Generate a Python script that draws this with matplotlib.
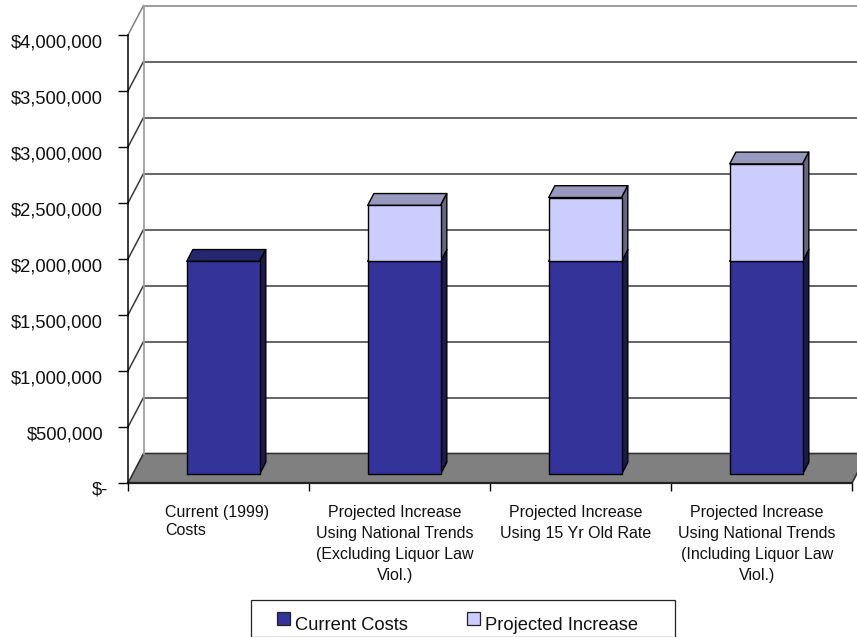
import matplotlib
matplotlib.use("Agg")
import matplotlib.pyplot as plt
from matplotlib.patches import Polygon, Rectangle
from matplotlib.transforms import ScaledTranslation

categories = [
    "Current (1999)\nCosts",
    "Projected Increase\nUsing National Trends\n(Excluding Liquor Law\nViol.)",
    "Projected Increase\nUsing 15 Yr Old Rate",
    "Projected Increase\nUsing National Trends\n(Including Liquor Law\nViol.)",
]
category_align = ["left", "center", "center", "center"]
current_costs = [1900000, 1900000, 1900000, 1900000]
projected_increase = [0, 500000, 570000, 870000]
y_ticks = [0, 500000, 1000000, 1500000, 2000000, 2500000, 3000000, 3500000, 4000000]
y_labels = ["$-", "$500,000", "$1,000,000", "$1,500,000", "$2,000,000",
            "$2,500,000", "$3,000,000", "$3,500,000", "$4,000,000"]

W, H = 857, 637
CAT_PX = 181.0
# oblique depth of the 3D box, as a category fraction and dollars
DEPTH_X = 15.5 / CAT_PX
DEPTH_Y = 29.5 / 56 * 500000
BAR_WIDTH = 0.403

plt.rcParams["font.family"] = ["Liberation Sans", "DejaVu Sans"]

fig = plt.figure(figsize=(W / 100, H / 100), dpi=100, facecolor="white")
ax = fig.add_axes([128 / W, 1 - 483 / H, 729 / W, 448 / H])
ax.set_xlim(0, 729 / CAT_PX)
ax.set_ylim(0, 4000000)
ax.patch.set_visible(False)


def proj(x, val, d):
    return (x + d * DEPTH_X, val + d * DEPTH_Y)


def poly(points, face, edge="black", lw=1.0, z=3):
    ax.add_patch(Polygon(points, closed=True, facecolor=face, edgecolor=edge,
                         linewidth=lw, joinstyle="round", clip_on=False, zorder=z))


def box(x0, x1, v0, v1, front, top, side, z):
    d0, d1 = 0.3, 0.7
    poly([proj(x0, v1, d0), proj(x1, v1, d0), proj(x1, v1, d1), proj(x0, v1, d1)], top, z=z)
    poly([proj(x1, v0, d0), proj(x1, v0, d1), proj(x1, v1, d1), proj(x1, v1, d0)], side, z=z)
    poly([proj(x0, v0, d0), proj(x1, v0, d0), proj(x1, v1, d0), proj(x0, v1, d0)], front, z=z)


x_end = 4.0
# floor
poly([proj(0, 0, 0), proj(x_end, 0, 0), proj(x_end, 0, 1), proj(0, 0, 1)],
     "#808080", edge="#333333", lw=1.2, z=1)
ax.plot([0, x_end], [0, 0], color="#222222", lw=1.6, clip_on=False, zorder=2)

# back wall gridlines and their returns on the side wall
for v in y_ticks[1:]:
    col = "#808080" if v == 4000000 else "#3a3a3a"
    ax.plot([0, DEPTH_X], [v, v + DEPTH_Y], color=col, lw=1.1, clip_on=False, zorder=1)
    ax.plot([DEPTH_X, x_end + DEPTH_X], [v + DEPTH_Y, v + DEPTH_Y],
            color=col, lw=1.1, clip_on=False, zorder=1)
ax.plot([DEPTH_X, DEPTH_X], [DEPTH_Y, 4000000 + DEPTH_Y], color="#a0a0a0", lw=1.3,
        clip_on=False, zorder=1)

# stacked columns
for i, (cur, inc) in enumerate(zip(current_costs, projected_increase)):
    x0 = i + 0.5 - BAR_WIDTH / 2
    x1 = x0 + BAR_WIDTH
    box(x0, x1, 0, cur, "#333399", "#26266e", "#1a1a4d", z=3 + i)
    if inc:
        box(x0, x1, cur, cur + inc, "#ccccff", "#9999bf", "#666680", z=3 + i)

for s in ["top", "right"]:
    ax.spines[s].set_visible(False)
ax.spines["left"].set_linewidth(1.1)
ax.spines["bottom"].set_visible(False)

ax.set_yticks(y_ticks)
ax.set_yticklabels(y_labels, fontsize=13.2, color="#111111")
ax.tick_params(axis="y", length=7, width=1.0, pad=11)
ax.set_xticks(range(5))
ax.set_xticklabels([])
ax.tick_params(axis="x", length=6, width=1.0)

# tick labels hang a little below their ticks; the zero label sits further right
for lab, val in zip(ax.get_yticklabels(), y_ticks):
    shift_x = 5 / 100 if val == 0 else 0
    lab.set_transform(lab.get_transform() + ScaledTranslation(shift_x, -5.5 / 100, fig.dpi_scale_trans))

label_x = [0.5, 1.475, 2.475, 3.475]
for i, (name, al) in enumerate(zip(categories, category_align)):
    ha = "left" if al == "left" else "center"
    xpos = (165 - 128) / CAT_PX if al == "left" else label_x[i]
    spacing = 1.2 if i == 0 else 1.48
    ax.annotate(name, xy=(xpos, 0), xytext=(0, -16), textcoords="offset points",
                ha=ha, va="top", multialignment=al, fontsize=11.5, color="#111111",
                linespacing=spacing, annotation_clip=False)

# legend box runs off the bottom of the figure
fig.add_artist(Rectangle((251 / W, 1 - 636.5 / H), 424 / W, 36.5 / H, transform=fig.transFigure,
                         facecolor="white", edgecolor="#222222", linewidth=0.9))
for lx, name, c in [(277, "Current Costs", "#333399"), (467, "Projected Increase", "#ccccff")]:
    fig.add_artist(Rectangle((lx / W, 1 - 625 / H), 13 / W, 13 / H, transform=fig.transFigure,
                             facecolor=c, edgecolor="#222222", linewidth=0.9))
    fig.text((lx + 18) / W, 1 - 625.5 / H, name, fontsize=13.2, color="#111111", ha="left", va="center")

fig.savefig("out.png", dpi=100)
